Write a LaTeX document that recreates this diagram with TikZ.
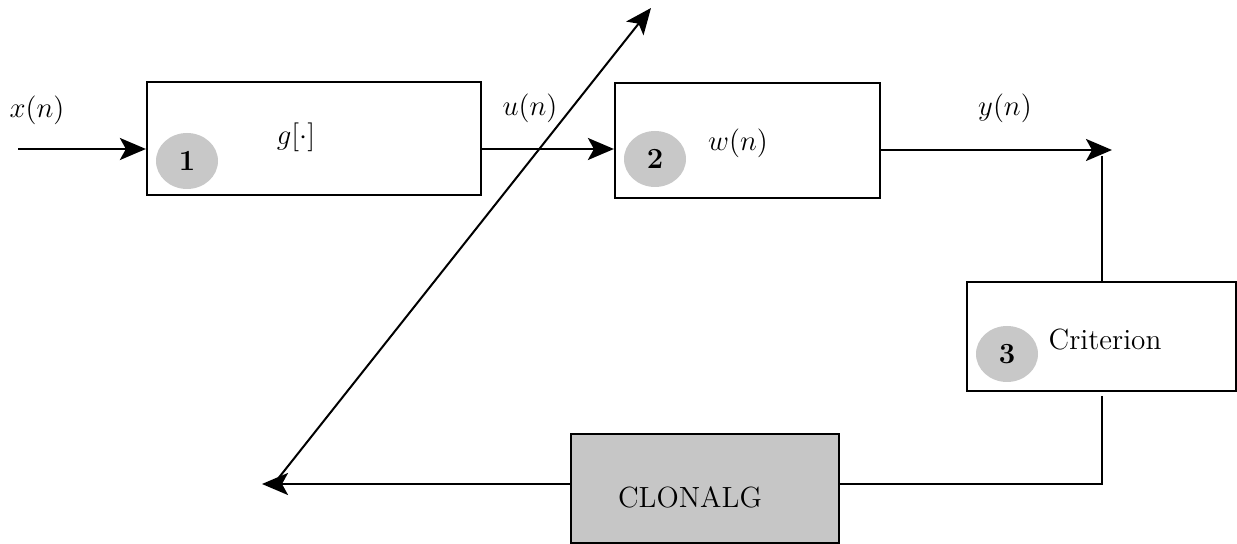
\documentclass[tikz,border=0pt]{standalone}
\usetikzlibrary{arrows.meta,fit,shapes.geometric}
\definecolor{badge}{HTML}{C8C8C8}
\definecolor{algfill}{HTML}{C6C6C6}
\begin{document}
\begin{tikzpicture}[x=0.5pt,y=-0.5pt,
  every node/.style={font=\fontsize{14.6}{17}\selectfont},
  block/.style={draw,line width=1.1pt,inner sep=0pt},
  badgenode/.style={ellipse,fill=badge,minimum width=31pt,minimum height=28pt,inner sep=0pt,font=\fontsize{14.6}{17}\selectfont\bfseries},
  conn/.style={line width=1.2pt},
  flow/.style={line width=1.2pt,-{Stealth[length=13pt,width=11pt,inset=3pt]}}]
\useasboundingbox (0,0) rectangle (1237,544);

% blocks
\node[block,fit={(147,82) (481,195)}] (g) {};
\node[block,fit={(615,83) (880,198)}] (w) {};
\node[block,fit={(967,282) (1236,391)}] (crit) {};
\node[block,fill=algfill,fit={(571,434) (839,543)}] (alg) {};

% block texts and numbered badges
\node at (296,137) (gt) {$g[\cdot]$};
\node[badgenode] at (187,161) (n1) {1};
\node at (738,143) (wt) {$w(n)$};
\node[badgenode] at (655,159) (n2) {2};
\node at (1105,340) (ct) {Criterion};
\node[badgenode] at (1007,354) (n3) {3};
\node at (690,497) (at) {CLONALG};

% signal labels
\node at (37,110) (xl) {$x(n)$};
\node at (530,108) (ul) {$u(n)$};
\node at (1005,108) (yl) {$y(n)$};

% connector end points
\coordinate (in) at (18,149);
\coordinate (yout) at (1112,150);
\coordinate (ytap) at (1102,156);
\coordinate (fb) at (1102,484);
\coordinate (critlow) at (1102,396);
\coordinate (adapt) at (262,484);
\coordinate (diagA) at (277,480);
\coordinate (diagB) at (651,8);

% signal flow
\draw[flow] (in) -- (g.west |- in);
\draw[flow] (g.east |- in) -- (w.west |- in);
\draw[flow] (w.east |- yout) -- (yout);
\draw[conn] (ytap) -- (crit.north -| ytap);
\draw[conn] (critlow) -- (fb) -- (alg.east |- fb);
\draw[flow] (alg.west |- fb) -- (adapt);
\draw[line width=1pt,-{Stealth[length=13pt,width=11pt,inset=3pt]}] (diagA) -- (diagB);
\end{tikzpicture}
\end{document}
